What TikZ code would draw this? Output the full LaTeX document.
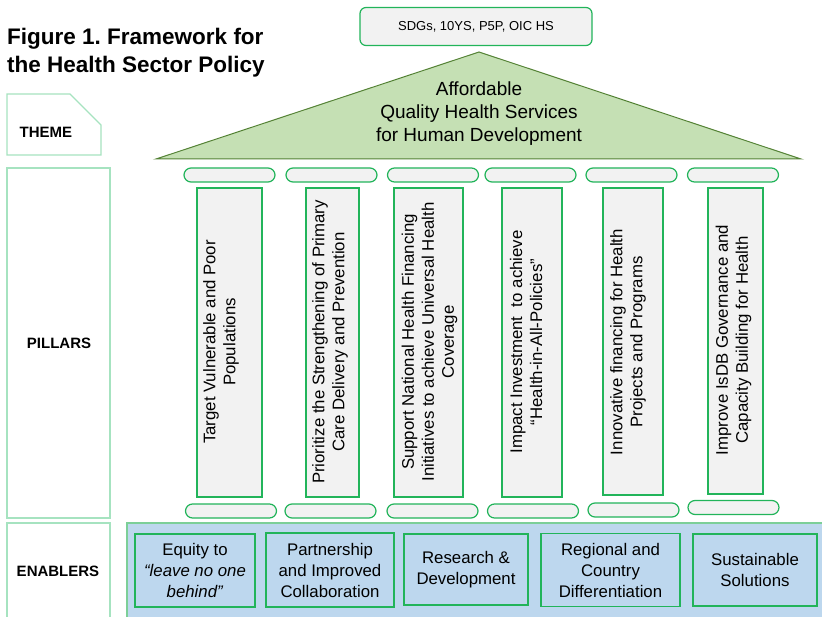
\documentclass[tikz,border=0pt]{standalone}
\usepackage{fontspec}
\setmainfont{Liberation Sans}
\frenchspacing
\definecolor{lblgreen}{HTML}{A6E3C0}
\definecolor{pgreen}{HTML}{22B45A}
\definecolor{pfill}{HTML}{F2F2F2}
\definecolor{roof}{HTML}{C5E0B4}
\definecolor{roofline}{HTML}{548235}
\definecolor{enblue}{HTML}{BDD7EE}
\definecolor{bandline}{HTML}{7CCF98}
\tikzset{
  lblbox/.style={draw=lblgreen, line width=1.2pt, fill=white},
  lbltext/.style={font=\fontsize{15}{18}\selectfont\bfseries, inner sep=0pt},
  shaft/.style={draw=pgreen, line width=1.3pt, fill=pfill, inner sep=0pt},
  pill/.style={draw=pgreen, line width=1.2pt, fill=pfill, rounded corners=7pt, inner sep=0pt, minimum height=14pt, minimum width=91pt},
  ptext/.style={rotate=90, align=center, inner sep=0pt, font=\fontsize{16.8}{20}\selectfont},
  enbox/.style={draw=pgreen, line width=1.3pt, fill=enblue, inner sep=0pt, align=center, font=\fontsize{16.8}{21}\selectfont},
}
\begin{document}
\begin{tikzpicture}[x=1pt,y=-1pt]
\useasboundingbox (0,0) rectangle (822,617);
% title
\node[anchor=base west, inner sep=0pt, font=\fontsize{22.5}{28}\selectfont\bfseries] (t1) at (7,45) {Figure 1. Framework for};
\node[anchor=base west, inner sep=0pt, font=\fontsize{22.5}{28}\selectfont\bfseries] (t2) at (7,73) {the Health Sector Policy};
% label boxes
\draw[lblbox] (7,94) -- (70,94) -- (101,125) -- (101,155) -- (7,155) -- cycle;
\node[lbltext] (lt) at (46,132) {THEME};
\draw[lblbox] (7,168) rectangle (110,518);
\node[lbltext] (lp) at (59,343) {PILLARS};
\draw[lblbox] (7,523) rectangle (110,625);
\node[lbltext] (le) at (58,571) {ENABLERS};
% SDGs box
\node[draw=pgreen, line width=1.2pt, fill=pfill, rounded corners=6pt, minimum width=232pt, minimum height=38pt, inner sep=0pt, font=\fontsize{13}{15}\selectfont] (sdg) at (476,26.5) {SDGs, 10YS, P5P, OIC HS};
% roof
\coordinate (apex) at (479,52);
\coordinate (rl) at (156,159);
\coordinate (rr) at (801,159);
\draw[fill=roof, draw=roofline, line width=1pt] (rl) -- (apex) -- (rr) -- cycle;
\node[align=center, inner sep=0pt, font=\fontsize{19}{23}\selectfont] (theme) at (479,114) {Affordable\\Quality Health Services\\for Human Development};
% top capitals
\node[pill] (c1) at (229.5,175) {};
\node[pill] (c2) at (331.5,175) {};
\node[pill] (c3) at (433,175) {};
\node[pill] (c4) at (530.5,175) {};
\node[pill] (c5) at (631.5,175) {};
\node[pill] (c6) at (733,175) {};
% shafts
\node[shaft, minimum width=65pt, minimum height=309pt] (s1) at (229.5,342.5) {};
\node[shaft, minimum width=53pt, minimum height=309pt] (s2) at (332.5,342.5) {};
\node[shaft, minimum width=69pt, minimum height=309pt] (s3) at (428.5,342.5) {};
\node[shaft, minimum width=60pt, minimum height=309pt] (s4) at (532,342.5) {};
\node[shaft, minimum width=60pt, minimum height=307pt] (s5) at (633,341.5) {};
\node[shaft, minimum width=55pt, minimum height=306pt] (s6) at (735.5,341) {};
\node[ptext] (p1) at (221,342) {Target Vulnerable and Poor\\Populations};
\node[ptext] (p2) at (330,342) {Prioritize the Strengthening of Primary\\Care Delivery and Prevention};
\node[ptext] (p3) at (429.5,342) {Support National Health Financing\\Initiatives to achieve Universal Health\\Coverage};
\node[ptext] (p4) at (526,342) {Impact Investment~ to achieve\\``Health-in-All-Policies''};
\node[ptext] (p5) at (628,342) {Innovative financing for Health\\Projects and Programs};
\node[ptext] (p6) at (733.5,340) {Improve IsDB Governance and\\Capacity Building for Health};
% bases
\node[pill] (b1) at (231,511) {};
\node[pill] (b2) at (330.5,511) {};
\node[pill] (b3) at (432.5,511) {};
\node[pill] (b4) at (533,511) {};
\node[pill] (b5) at (633.5,510) {};
\node[pill] (b6) at (733.5,507.5) {};
% enablers band
\draw[fill=enblue, draw=bandline, line width=1.2pt] (127,523) rectangle (830,630);
\node[enbox, minimum width=120pt, minimum height=73pt] (e1) at (195,570.5) {Equity to\\\textit{``leave no one}\\\textit{behind''}};
\node[enbox, minimum width=128pt, minimum height=74pt] (e2) at (330,570) {Partnership\\and Improved\\Collaboration};
\node[enbox, minimum width=124pt, minimum height=71pt] (e3) at (466,569.5) {Research \&\\Development};
\node[enbox, minimum width=139pt, minimum height=73pt] (e4) at (610.5,570) {Regional and\\Country\\Differentiation};
\node[enbox, minimum width=124pt, minimum height=72pt] (e5) at (755,570) {Sustainable\\Solutions};
\end{tikzpicture}
\end{document}
